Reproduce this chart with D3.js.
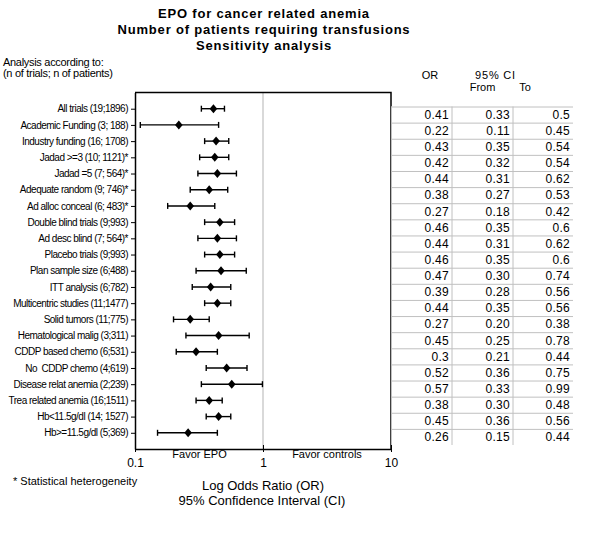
<!DOCTYPE html>
<html>
<head>
<meta charset="utf-8">
<script src="https://cdn.jsdelivr.net/npm/d3@7"></script>
<style>
  body { margin: 0; background: #fff; }
  svg { font-family: "Liberation Sans", Arial, sans-serif; }
  text { white-space: pre; }
</style>
</head>
<body>
<svg id="chart" width="600" height="550"></svg>
<script>
const titleLines = ["EPO for cancer related anemia", "Number of patients requiring transfusions", "Sensitivity analysis"];
const categories = [
  "All trials (19;1896)",
  "Academic Funding (3; 188)",
  "Industry funding (16; 1708)",
  "Jadad >=3 (10; 1121)*",
  "Jadad =5 (7; 564)*",
  "Adequate random (9; 746)*",
  "Ad alloc conceal (6; 483)*",
  "Double blind trials (9;993)",
  "Ad desc blind (7; 564)*",
  "Placebo trials (9;993)",
  "Plan sample size (6;488)",
  "ITT analysis (6;782)",
  "Multicentric studies (11;1477)",
  "Solid tumors (11;775)",
  "Hematological malig (3;311)",
  "CDDP based chemo (6;531)",
  "No  CDDP chemo (4;619)",
  "Disease relat anemia (2;239)",
  "Trea related anemia (16;1511)",
  "Hb<11.5g/dl (14; 1527)",
  "Hb>=11.5g/dl (5;369)"
];
const orValues   = ["0.41","0.22","0.43","0.42","0.44","0.38","0.27","0.46","0.44","0.46","0.47","0.39","0.44","0.27","0.45","0.3","0.52","0.57","0.38","0.45","0.26"];
const ciFrom     = ["0.33","0.11","0.35","0.32","0.31","0.27","0.18","0.35","0.31","0.35","0.30","0.28","0.35","0.20","0.25","0.21","0.36","0.33","0.30","0.36","0.15"];
const ciTo       = ["0.5","0.45","0.54","0.54","0.62","0.53","0.42","0.6","0.62","0.6","0.74","0.56","0.56","0.38","0.78","0.44","0.75","0.99","0.48","0.56","0.44"];
const xTicks = [0.1, 1, 10];
const xTickLabels = ["0.1", "1", "10"];

const svg = d3.select("#chart");
const n = categories.length;

// Title
svg.append("g").selectAll("text").data(titleLines).join("text")
  .attr("x", 264).attr("y", (d, i) => 17.5 + i * 16.3)
  .attr("text-anchor", "middle").attr("font-size", 13).attr("font-weight", "bold")
  .attr("letter-spacing", "0.8px").text(d => d);

svg.append("text").attr("x", 3).attr("y", 66).attr("font-size", 11).attr("letter-spacing", "-0.3px").text("Analysis according to:");
svg.append("text").attr("x", 3).attr("y", 77).attr("font-size", 11).attr("letter-spacing", "-0.3px").text("(n of trials; n of patients)");

// Scales
const x = d3.scaleLog().domain([0.1, 10]).range([135, 391]);
const y = d3.scaleLinear().domain([0, n + 1]).range([92.5, 449]);

// Reference line at 1
svg.append("line").attr("x1", x(1)).attr("x2", x(1)).attr("y1", y(0)).attr("y2", y(n + 1))
  .attr("stroke", "#c0c0c0").attr("stroke-width", 1.2);

// Frame top and right
svg.append("path").attr("d", `M${x(0.1)},${y(0)}H${x(10)}V${y(n + 1)}`)
  .attr("fill", "none").attr("stroke", "#000").attr("stroke-width", 1.5);

// Left axis
const yAxis = d3.axisLeft(y).tickValues(d3.range(1, n + 1)).tickFormat(i => categories[i - 1])
  .tickSize(4).tickSizeOuter(0).tickPadding(3);
const gy = svg.append("g").attr("transform", `translate(${x(0.1)},0)`).call(yAxis);
gy.select(".domain").attr("stroke-width", 1.5);
gy.selectAll("text").attr("font-size", 10).attr("letter-spacing", "-0.5px")
  .attr("font-family", '"Liberation Sans", Arial, sans-serif');

// Bottom axis
const xAxis = d3.axisBottom(x).tickValues(xTicks).tickFormat((d, i) => xTickLabels[i])
  .tickSize(3).tickSizeOuter(0).tickPadding(6);
const gx = svg.append("g").attr("transform", `translate(0,${y(n + 1)})`).call(xAxis);
gx.select(".domain").attr("stroke-width", 1.5);
gx.selectAll("text").attr("font-size", 12).attr("font-family", '"Liberation Sans", Arial, sans-serif');
gx.selectAll(".tick line").attr("y1", -4);

svg.append("text").attr("x", (x(0.1) + x(1)) / 2 + 0.5).attr("y", 458).attr("text-anchor", "middle")
  .attr("font-size", 11).text("Favor EPO");
svg.append("text").attr("x", (x(1) + x(10)) / 2 + 0).attr("y", 458).attr("text-anchor", "middle")
  .attr("font-size", 11).text("Favor controls");

// Table
const tableTop = 106.5, tableBottom = 445;
const rowY = d3.scaleBand().domain(d3.range(n)).range([tableTop, tableBottom]);
const colEdges = [391.5, 452, 513, 573];
const tbl = svg.append("g");
tbl.append("rect").attr("x", colEdges[0]).attr("y", tableTop).attr("width", colEdges[3] - colEdges[0])
  .attr("height", tableBottom - tableTop).attr("fill", "#fff");
tbl.selectAll("line.h").data(d3.range(n)).join("line").attr("class", "h")
  .attr("x1", colEdges[0]).attr("x2", colEdges[3])
  .attr("y1", i => rowY(i) + 0.5).attr("y2", i => rowY(i) + 0.5)
  .attr("stroke", "#c0c0c0").attr("stroke-width", 1);
tbl.selectAll("line.v").data(colEdges.slice(0, 3)).join("line").attr("class", "v")
  .attr("x1", d => d).attr("x2", d => d).attr("y1", tableTop).attr("y2", tableBottom)
  .attr("stroke", "#c0c0c0").attr("stroke-width", 1);
const cols = [orValues, ciFrom, ciTo];
cols.forEach((arr, c) => {
  tbl.append("g").selectAll("text").data(arr).join("text")
    .attr("x", colEdges[c + 1] - 3 + (c === 2 ? 0 : 0))
    .attr("y", (d, i) => rowY(i) + rowY.bandwidth() / 2 + 4.3)
    .attr("text-anchor", "end").attr("font-size", 12).attr("letter-spacing", "0.3px").text(d => d);
});
svg.append("text").attr("x", 430).attr("y", 79).attr("text-anchor", "middle").attr("font-size", 11).text("OR");
svg.append("text").attr("x", 495.5).attr("y", 79).attr("text-anchor", "middle").attr("font-size", 11).attr("letter-spacing", "0.8px").text("95% CI");
svg.append("text").attr("x", 482.5).attr("y", 90.5).attr("text-anchor", "middle").attr("font-size", 11).text("From");
svg.append("text").attr("x", 525).attr("y", 90.5).attr("text-anchor", "middle").attr("font-size", 11).text("To");

// CI bars and markers
const marks = svg.append("g");
d3.range(n).forEach(i => {
  const cy = y(i + 1);
  const lo = x(+ciFrom[i]), hi = x(+ciTo[i]), m = x(+orValues[i]);
  marks.append("line").attr("x1", lo).attr("x2", hi).attr("y1", cy).attr("y2", cy)
    .attr("stroke", "#000").attr("stroke-width", 1.4);
  [lo, hi].forEach(cx => marks.append("line").attr("x1", cx).attr("x2", cx)
    .attr("y1", cy - 3).attr("y2", cy + 3).attr("stroke", "#000").attr("stroke-width", 1.4));
  marks.append("path").attr("d", `M${m},${cy - 4.5}L${m + 3.8},${cy}L${m},${cy + 4.5}L${m - 3.8},${cy}Z`)
    .attr("fill", "#000");
});

// Footer
svg.append("text").attr("x", 13).attr("y", 485).attr("font-size", 11).text("* Statistical heterogeneity");
svg.append("text").attr("x", 263).attr("y", 490).attr("text-anchor", "middle").attr("font-size", 13).text("Log Odds Ratio (OR)");
svg.append("text").attr("x", 262).attr("y", 505).attr("text-anchor", "middle").attr("font-size", 13).text("95% Confidence Interval (CI)");
</script>
</body>
</html>
